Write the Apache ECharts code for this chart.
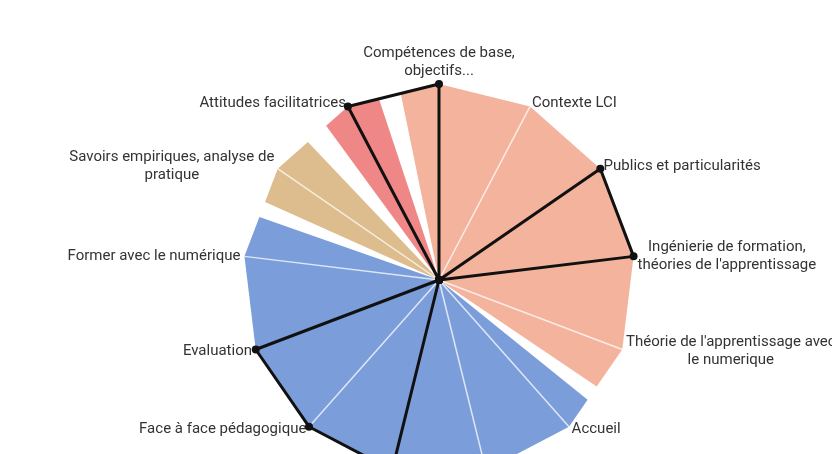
<!DOCTYPE html>
<html>
<head>
<meta charset="utf-8">
<script src="https://cdn.jsdelivr.net/npm/echarts@6/dist/echarts.min.js"></script>
<style>
  html, body { margin: 0; padding: 0; background: #fff; }
  #main { width: 832px; height: 454px; }
</style>
</head>
<body>
<div id="main"></div>
<script>
// 13 axes, clockwise from the top (two bottom labels are outside the picture)
var categories = [
  'Compétences de base,\nobjectifs...',
  'Contexte LCI',
  'Publics et particularités',
  'Ingénierie de formation,\nthéories de l\'apprentissage',
  'Théorie de l\'apprentissage avec\nle numerique',
  'Accueil',
  '',
  '',
  'Face à face pédagogique',
  'Evaluation',
  'Former avec le numérique',
  'Savoirs empiriques, analyse de\npratique',
  'Attitudes facilitatrices'
];

// black profile line (0 = centre, 100 = full)
var scores = [100, 0, 100, 100, 0, 0, 0, 100, 100, 100, 0, 0, 100];

// coloured domains: angular extent in axis units (axis i sits at i)
var domainFrom = [-0.42, 4.65, 10.62, 11.69];
var domainTo = [4.48, 10.45, 11.43, 12.34];
var domainValue = [100, 100, 100, 100];
var domainColors = ['#f4b39c', '#7b9edb', '#ddbd8e', '#ef8787'];

var chart = echarts.init(document.getElementById('main'), null, { renderer: 'canvas' });

var CENTER = [439, 280];
var RADIUS = 196;

// radar runs counter-clockwise, so feed it the axes in reverse after the first
var radarOrder = [0];
for (var i = categories.length - 1; i > 0; i--) radarOrder.push(i);

function renderDomain(params, api) {
  var from = api.value(0), to = api.value(1), r = api.value(2), ci = api.value(3);
  var c = api.coord([0, 0]);
  // point on the polygon edge between two axes
  function edge(u) {
    var k = Math.floor(u);
    var p = api.coord([r, k]);
    var q = api.coord([r, k + 1]);
    var s = u - k;
    return [p[0] + (q[0] - p[0]) * s, p[1] + (q[1] - p[1]) * s];
  }
  var pts = [c, edge(from)];
  for (var k = Math.ceil(from); k < to; k++) {
    pts.push(api.coord([r, k]));
  }
  pts.push(edge(to));
  return {
    type: 'polygon',
    shape: { points: pts },
    style: { fill: domainColors[ci] }
  };
}

var domainData = domainFrom.map(function (f, i) {
  return [f, domainTo[i], domainValue[i], i];
});

var option = {
  backgroundColor: '#fff',
  animation: false,
  polar: { center: CENTER, radius: RADIUS },
  angleAxis: { type: 'value', min: 0, max: 13, startAngle: 90, clockwise: true, show: false },
  radiusAxis: { type: 'value', min: 0, max: 100, show: false },
  radar: {
    center: CENTER,
    radius: RADIUS,
    startAngle: 90,
    shape: 'polygon',
    splitNumber: 1,
    z: 3,
    nameGap: 4,
    indicator: radarOrder.map(function (i) { return { name: categories[i], min: 0, max: 100 }; }),
    axisName: {
      color: '#333',
      fontSize: 15,
      fontFamily: 'Roboto',
      lineHeight: 18,
      formatter: function (name) {
        if (!name) return '';
        return name.split('\n').map(function (s) { return '{c|' + s + '}'; }).join('\n');
      },
      rich: {
        c: { align: 'center', color: '#333', fontSize: 15, fontFamily: 'Roboto', lineHeight: 18 }
      }
    },
    splitLine: { show: false },
    splitArea: { show: false },
    axisTick: { show: false },
    axisLabel: { show: false },
    axisLine: { lineStyle: { color: 'rgba(255,255,255,0.75)', width: 1.5 } }
  },
  series: [{
    type: 'custom',
    coordinateSystem: 'polar',
    z: 2,
    silent: true,
    renderItem: renderDomain,
    data: domainData
  }, {
    type: 'radar',
    z: 5,
    symbol: 'circle',
    symbolSize: 8,
    lineStyle: { color: '#111', width: 3 },
    itemStyle: { color: '#111' },
    data: [{ value: radarOrder.map(function (i) { return scores[i]; }) }]
  }]
};

chart.setOption(option);
</script>
</body>
</html>
